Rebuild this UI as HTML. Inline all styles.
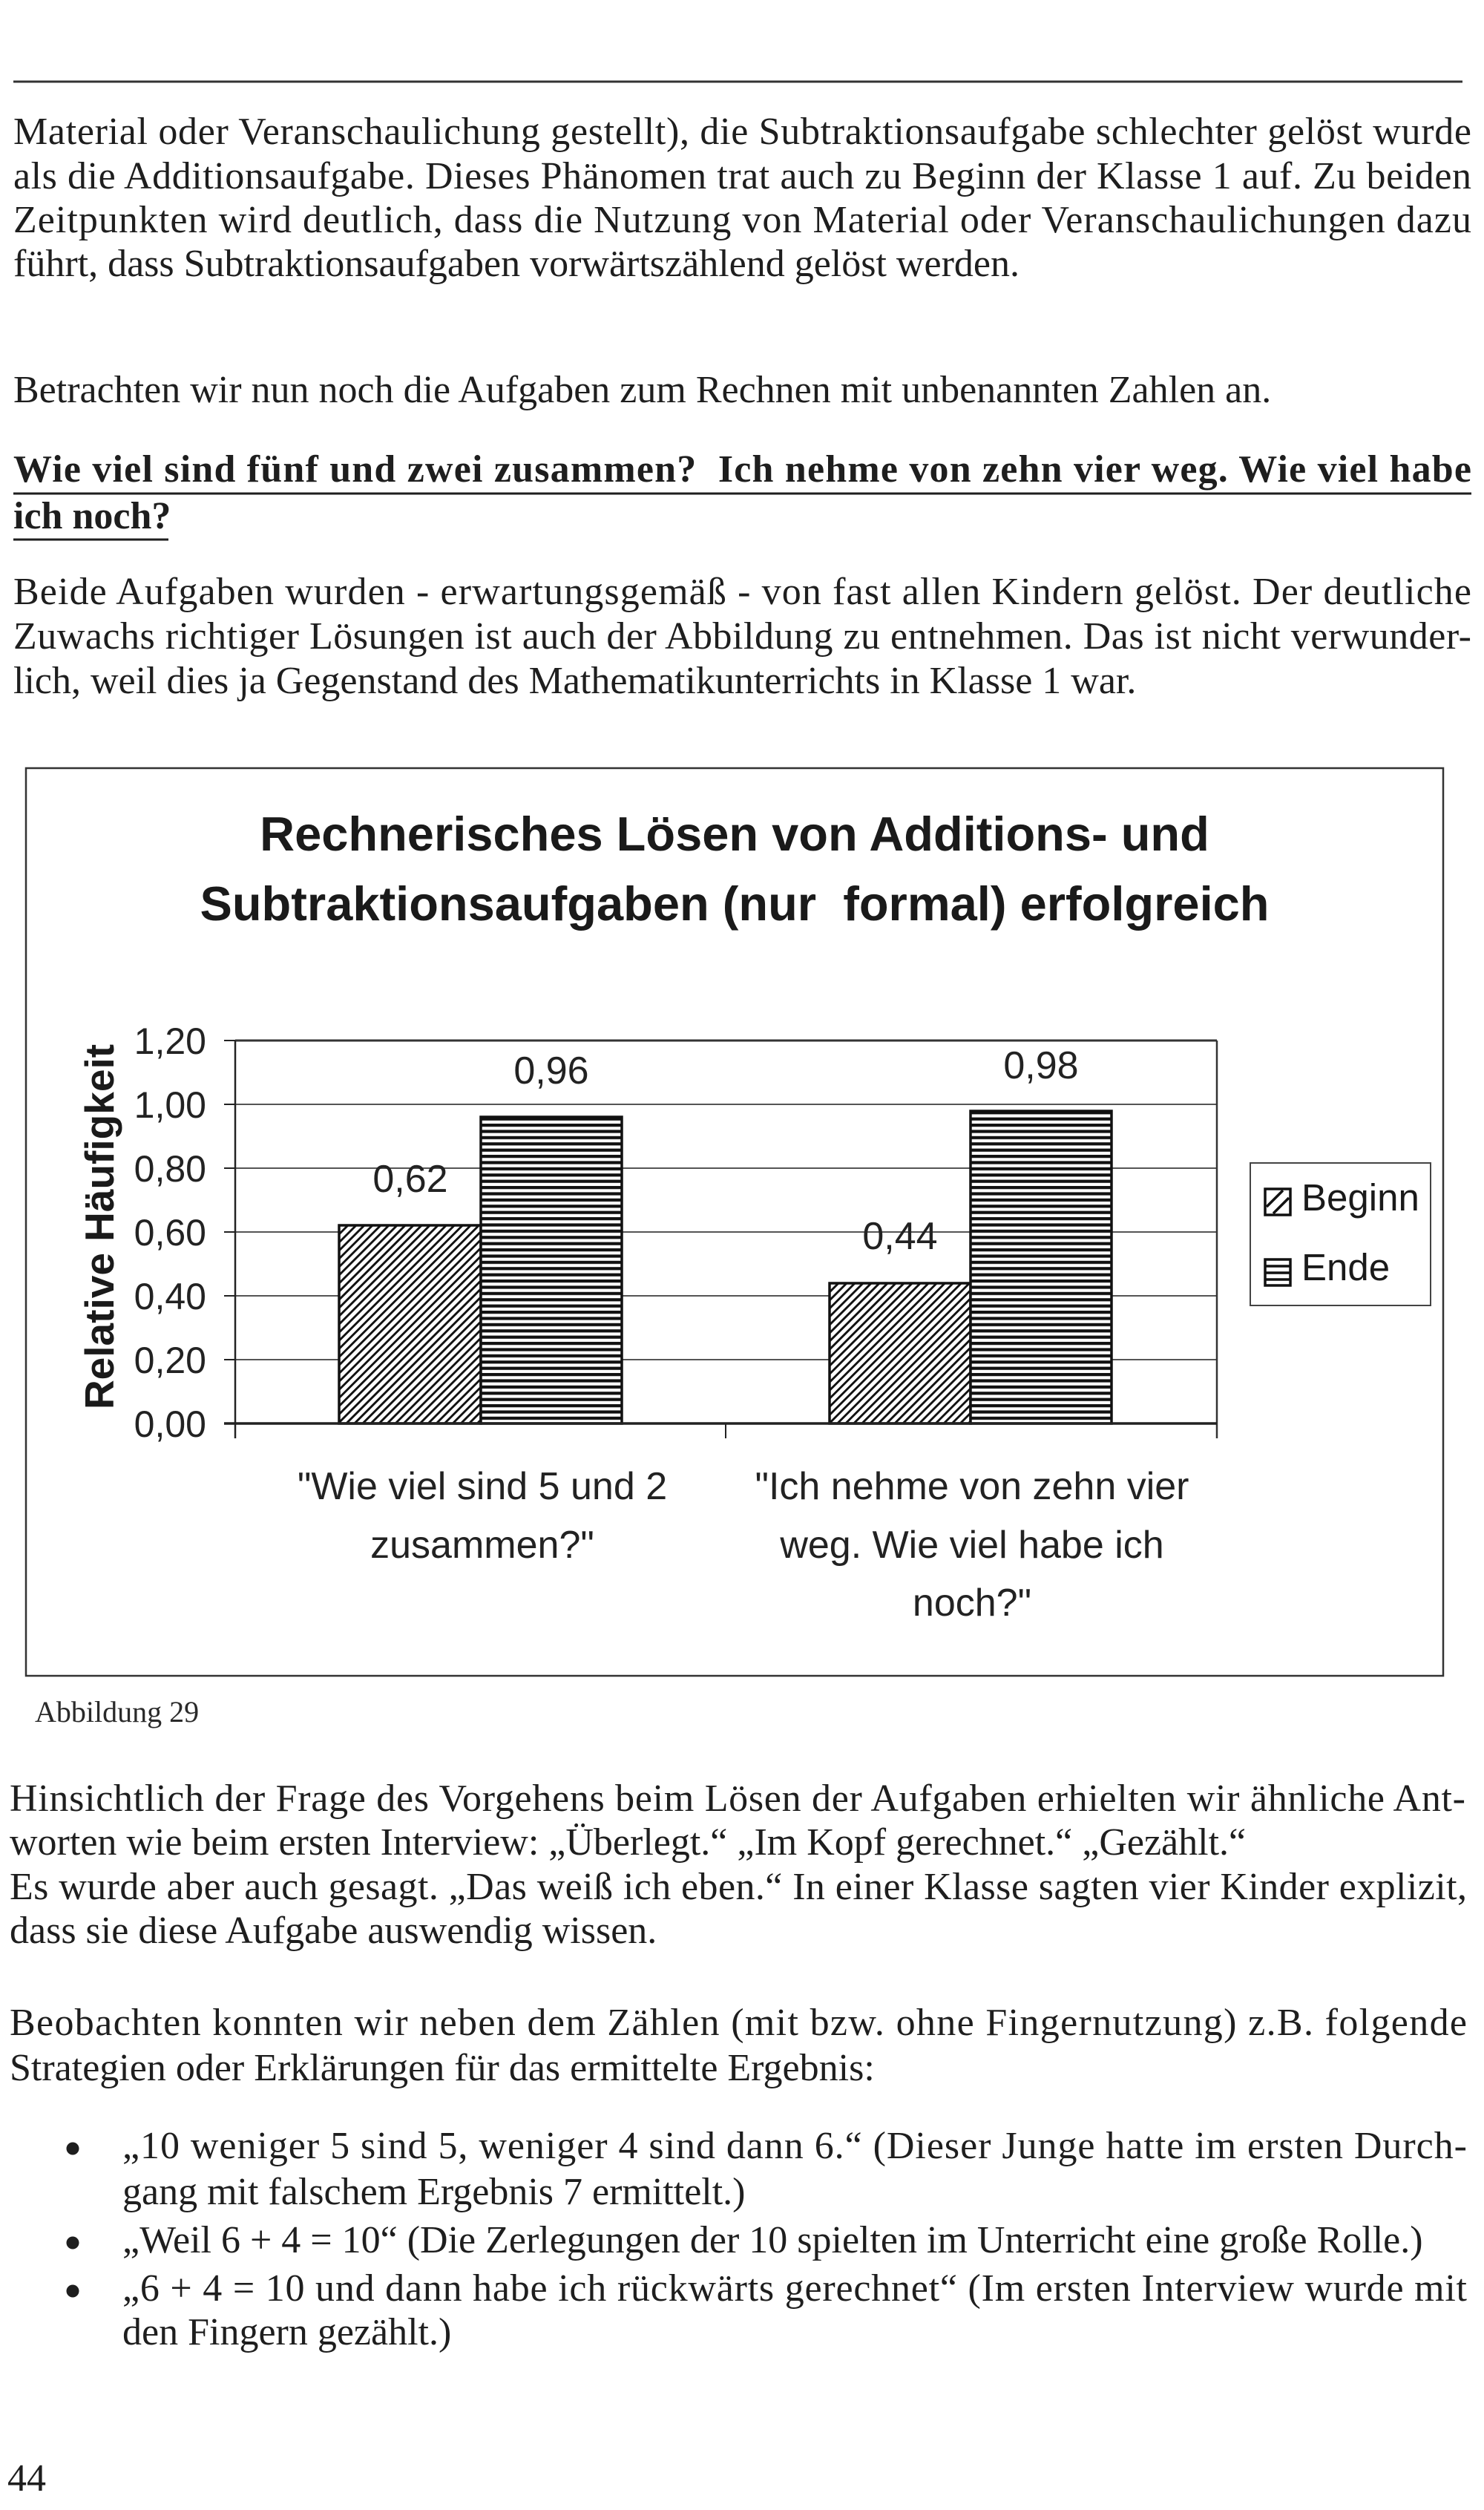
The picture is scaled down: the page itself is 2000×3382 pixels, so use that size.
<!DOCTYPE html>
<html>
<head>
<meta charset="utf-8">
<style>
html,body{margin:0;padding:0;background:#fff;}
svg{display:block;}
</style>
</head>
<body>
<svg xmlns="http://www.w3.org/2000/svg" width="2000" height="3382" viewBox="0 0 2000 3382">
<defs>
  <pattern id="diag" patternUnits="userSpaceOnUse" width="7.8" height="20" patternTransform="rotate(45)">
    <rect x="0" y="0" width="2.9" height="20" fill="#111"/>
  </pattern>
  <pattern id="hor" patternUnits="userSpaceOnUse" width="20" height="8.4">
    <rect x="0" y="2" width="20" height="4.2" fill="#111"/>
  </pattern>
</defs>
<rect x="0" y="0" width="2000" height="3382" fill="#fff"/>

<!-- top rule -->
<line x1="18" y1="110" x2="1971" y2="110" stroke="#333" stroke-width="3"/>

<!-- body text -->
<g font-family="'Liberation Serif', serif" font-size="52" fill="#1e1e1e">
  <text x="18" y="194" textLength="1965" lengthAdjust="spacing">Material oder Veranschaulichung gestellt), die Subtraktionsaufgabe schlechter gelöst wurde</text>
  <text x="18" y="254" textLength="1965" lengthAdjust="spacing">als die Additionsaufgabe. Dieses Phänomen trat auch zu Beginn der Klasse 1 auf. Zu beiden</text>
  <text x="18" y="313" textLength="1965" lengthAdjust="spacing">Zeitpunkten wird deutlich, dass die Nutzung von Material oder Veranschaulichungen dazu</text>
  <text x="18" y="372">führt, dass Subtraktionsaufgaben vorwärtszählend gelöst werden.</text>

  <text x="18" y="542">Betrachten wir nun noch die Aufgaben zum Rechnen mit unbenannten Zahlen an.</text>

  <text x="18" y="649" font-weight="bold" textLength="1965" lengthAdjust="spacing">Wie viel sind fünf und zwei zusammen?&#160; Ich nehme von zehn vier weg. Wie viel habe</text>
  <text x="18" y="712" font-weight="bold">ich noch?</text>

  <text x="18" y="814" textLength="1965" lengthAdjust="spacing">Beide Aufgaben wurden - erwartungsgemäß - von fast allen Kindern gelöst. Der deutliche</text>
  <text x="18" y="874" textLength="1965" lengthAdjust="spacing">Zuwachs richtiger Lösungen ist auch der Abbildung zu entnehmen. Das ist nicht verwunder-</text>
  <text x="18" y="934">lich, weil dies ja Gegenstand des Mathematikunterrichts in Klasse 1 war.</text>

  <text x="13" y="2440" textLength="1962" lengthAdjust="spacing">Hinsichtlich der Frage des Vorgehens beim Lösen der Aufgaben erhielten wir ähnliche Ant-</text>
  <text x="13" y="2499">worten wie beim ersten Interview: „Überlegt.“ „Im Kopf gerechnet.“ „Gezählt.“</text>
  <text x="13" y="2559" textLength="1964" lengthAdjust="spacing">Es wurde aber auch gesagt. „Das weiß ich eben.“ In einer Klasse sagten vier Kinder explizit,</text>
  <text x="13" y="2618">dass sie diese Aufgabe auswendig wissen.</text>

  <text x="13" y="2742" textLength="1964" lengthAdjust="spacing">Beobachten konnten wir neben dem Zählen (mit bzw. ohne Fingernutzung) z.B. folgende</text>
  <text x="13" y="2803">Strategien oder Erklärungen für das ermittelte Ergebnis:</text>

  <text x="165" y="2908" textLength="1812" lengthAdjust="spacing">„10 weniger 5 sind 5, weniger 4 sind dann 6.“ (Dieser Junge hatte im ersten Durch-</text>
  <text x="165" y="2970">gang mit falschem Ergebnis 7 ermittelt.)</text>
  <text x="165" y="3035">„Weil 6 + 4 = 10“ (Die Zerlegungen der 10 spielten im Unterricht eine große Rolle.)</text>
  <text x="165" y="3100" textLength="1812" lengthAdjust="spacing">„6 + 4 = 10 und dann habe ich rückwärts gerechnet“ (Im ersten Interview wurde mit</text>
  <text x="165" y="3159">den Fingern gezählt.)</text>

  <text x="10" y="3356">44</text>
</g>

<!-- underlines of bold heading -->
<line x1="18" y1="665" x2="1983" y2="665" stroke="#1e1e1e" stroke-width="3"/>
<line x1="18" y1="727" x2="227" y2="727" stroke="#1e1e1e" stroke-width="3"/>

<!-- bullets -->
<g fill="#1e1e1e">
  <circle cx="98" cy="2895" r="8.5"/>
  <circle cx="98" cy="3022" r="8.5"/>
  <circle cx="98" cy="3087" r="8.5"/>
</g>

<!-- caption -->
<text x="47" y="2320" font-family="'Liberation Serif', serif" font-size="40" fill="#2a2a2a">Abbildung 29</text>

<!-- ===== CHART ===== -->
<rect x="35" y="1035" width="1910" height="1223" fill="none" stroke="#333" stroke-width="2.5"/>

<g font-family="'Liberation Sans', sans-serif" font-weight="bold" font-size="65" fill="#1a1a1a" text-anchor="middle">
  <text x="990" y="1146">Rechnerisches Lösen von Additions- und</text>
  <text x="990" y="1240">Subtraktionsaufgaben (nur&#160; formal) erfolgreich</text>
</g>

<!-- gridlines -->
<g stroke="#555" stroke-width="2">
  <line x1="317" y1="1488" x2="1640" y2="1488"/>
  <line x1="317" y1="1574" x2="1640" y2="1574"/>
  <line x1="317" y1="1660" x2="1640" y2="1660"/>
  <line x1="317" y1="1746" x2="1640" y2="1746"/>
  <line x1="317" y1="1832" x2="1640" y2="1832"/>
</g>
<!-- plot border -->
<line x1="317" y1="1402" x2="1640" y2="1402" stroke="#333" stroke-width="3"/>
<line x1="1640" y1="1402" x2="1640" y2="1938" stroke="#333" stroke-width="2.5"/>
<line x1="317" y1="1402" x2="317" y2="1938" stroke="#222" stroke-width="2.5"/>
<!-- left ticks -->
<g stroke="#222" stroke-width="2">
  <line x1="302" y1="1402" x2="317" y2="1402"/>
  <line x1="302" y1="1488" x2="317" y2="1488"/>
  <line x1="302" y1="1574" x2="317" y2="1574"/>
  <line x1="302" y1="1660" x2="317" y2="1660"/>
  <line x1="302" y1="1746" x2="317" y2="1746"/>
  <line x1="302" y1="1832" x2="317" y2="1832"/>
  <line x1="302" y1="1918" x2="317" y2="1918"/>
  <line x1="978" y1="1918" x2="978" y2="1938"/>
</g>

<!-- bars -->
<g stroke="#111" stroke-width="3.5">
  <rect x="457" y="1651" width="191" height="267" fill="#fff" stroke="none"/>
  <rect x="457" y="1651" width="191" height="267" fill="url(#diag)"/>
  <rect x="648" y="1505" width="190" height="413" fill="#fff" stroke="none"/>
  <rect x="648" y="1505" width="190" height="413" fill="url(#hor)"/>
  <rect x="1118" y="1729" width="190" height="189" fill="#fff" stroke="none"/>
  <rect x="1118" y="1729" width="190" height="189" fill="url(#diag)"/>
  <rect x="1308" y="1497" width="190" height="421" fill="#fff" stroke="none"/>
  <rect x="1308" y="1497" width="190" height="421" fill="url(#hor)"/>
</g>
<!-- x axis -->
<line x1="302" y1="1918" x2="1640" y2="1918" stroke="#222" stroke-width="3.5"/>

<!-- y tick labels -->
<g font-family="'Liberation Sans', sans-serif" font-size="50" fill="#222" text-anchor="end">
  <text x="278" y="1420">1,20</text>
  <text x="278" y="1506">1,00</text>
  <text x="278" y="1592">0,80</text>
  <text x="278" y="1678">0,60</text>
  <text x="278" y="1764">0,40</text>
  <text x="278" y="1850">0,20</text>
  <text x="278" y="1936">0,00</text>
</g>

<!-- y axis title -->
<text transform="translate(153,1653) rotate(-90)" text-anchor="middle" font-family="'Liberation Sans', sans-serif" font-weight="bold" font-size="55" fill="#1a1a1a">Relative Häufigkeit</text>

<!-- data labels -->
<g font-family="'Liberation Sans', sans-serif" font-size="52" fill="#222" text-anchor="middle">
  <text x="553" y="1606">0,62</text>
  <text x="743" y="1460">0,96</text>
  <text x="1213" y="1683">0,44</text>
  <text x="1403" y="1453">0,98</text>
</g>

<!-- category labels -->
<g font-family="'Liberation Sans', sans-serif" font-size="52" fill="#222" text-anchor="middle">
  <text x="650" y="2020">"Wie viel sind 5 und 2</text>
  <text x="650" y="2099">zusammen?"</text>
  <text x="1310" y="2020">"Ich nehme von zehn vier</text>
  <text x="1310" y="2099">weg. Wie viel habe ich</text>
  <text x="1310" y="2177">noch?"</text>
</g>

<!-- legend -->
<rect x="1685" y="1567" width="243" height="192" fill="#fff" stroke="#444" stroke-width="2"/>
<rect x="1705" y="1602" width="34" height="35" fill="#fff" stroke="#111" stroke-width="3.5"/>
<g stroke="#111" stroke-width="3.5">
  <line x1="1707" y1="1626" x2="1729" y2="1604"/>
  <line x1="1716" y1="1635" x2="1737" y2="1614"/>
</g>
<rect x="1705" y="1697" width="34" height="35" fill="#fff" stroke="#111" stroke-width="3.5"/>
<g stroke="#111" stroke-width="3.5">
  <line x1="1705" y1="1706" x2="1739" y2="1706"/>
  <line x1="1705" y1="1715" x2="1739" y2="1715"/>
  <line x1="1705" y1="1724" x2="1739" y2="1724"/>
</g>
<g font-family="'Liberation Sans', sans-serif" font-size="51" fill="#1a1a1a">
  <text x="1754" y="1631">Beginn</text>
  <text x="1754" y="1725">Ende</text>
</g>
</svg>
</body>
</html>
